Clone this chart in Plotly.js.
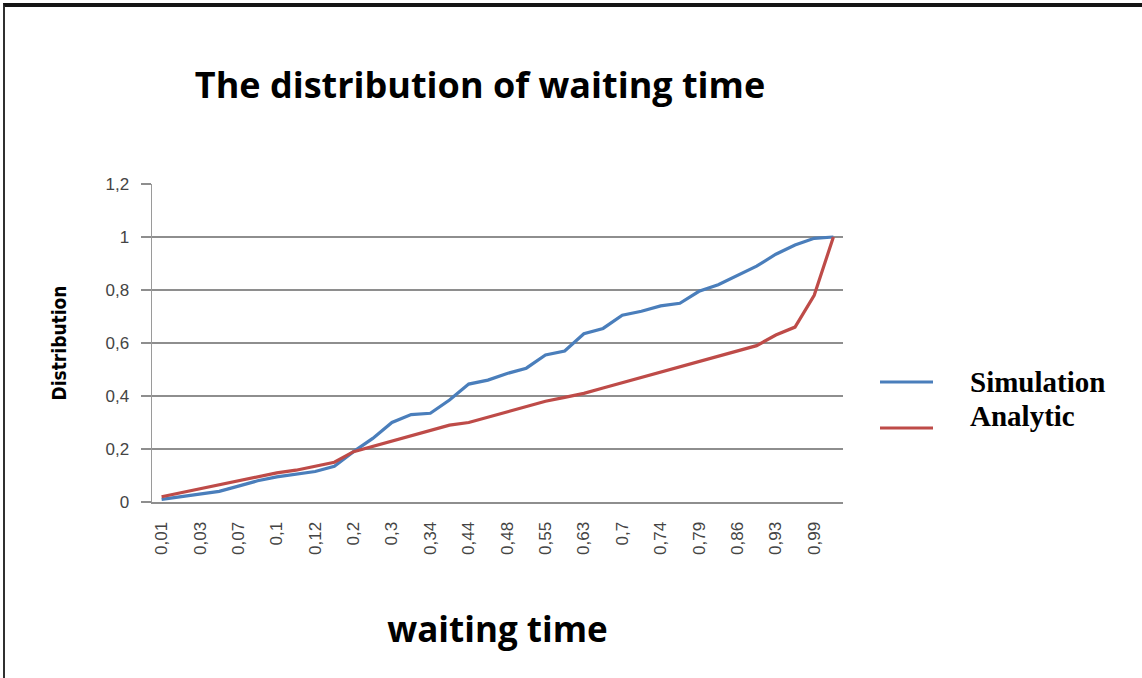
<!DOCTYPE html>
<html>
<head>
<meta charset="utf-8">
<script src="https://cdn.plot.ly/plotly-3.0.1.min.js"></script>
<style>
  html, body { margin: 0; padding: 0; background: #fff; }
  #wrap { position: relative; width: 1142px; height: 678px; overflow: hidden; }
  #chart { width: 1142px; height: 678px; }
  #frame { position: absolute; left: 3px; top: 3px; width: 1160px; height: 700px;
           border-top: 4px solid #151515; border-left: 2px solid #303030; pointer-events: none; }
</style>
</head>
<body>
<div id="wrap">
  <div id="chart"></div>
  <div id="frame"></div>
</div>
<script>
// Category labels (waiting time); only every other one is shown on the axis
const categories = ['0,01','0,02','0,03','0,05','0,07','0,08','0,1','0,11','0,12','0,15',
                    '0,2','0,25','0,3','0,32','0,34','0,4','0,44','0,46','0,48','0,5',
                    '0,55','0,6','0,63','0,66','0,7','0,72','0,74','0,76','0,79','0,83',
                    '0,86','0,9','0,93','0,96','0,99','1'];
const tickLabels = ['0,01','0,03','0,07','0,1','0,12','0,2','0,3','0,34','0,44','0,48',
                    '0,55','0,63','0,7','0,74','0,79','0,86','0,93','0,99'];
const simulation = [0.01,0.02,0.03,0.04,0.06,0.08,0.095,0.105,0.115,0.135,
                    0.19,0.24,0.30,0.33,0.335,0.385,0.445,0.46,0.485,0.505,
                    0.555,0.57,0.635,0.655,0.705,0.72,0.74,0.75,0.795,0.82,
                    0.855,0.89,0.935,0.97,0.995,1.0];
const analytic   = [0.02,0.035,0.05,0.065,0.08,0.095,0.11,0.12,0.135,0.15,
                    0.19,0.21,0.23,0.25,0.27,0.29,0.30,0.32,0.34,0.36,
                    0.38,0.395,0.41,0.43,0.45,0.47,0.49,0.51,0.53,0.55,
                    0.57,0.59,0.63,0.66,0.78,1.0];
const seriesNames = ['Simulation','Analytic'];
const seriesColors = ['#4a7ebb','#be4b48'];

const traces = [
  {x: categories, y: simulation, name: seriesNames[0], type: 'scatter', mode: 'lines',
   line: {color: seriesColors[0], width: 3.2}},
  {x: categories, y: analytic, name: seriesNames[1], type: 'scatter', mode: 'lines',
   line: {color: seriesColors[1], width: 3.2}}
];

// legend drawn by hand (paper coordinates of the plot area)
const L = 152, R = 843, T = 184, B = 502;
const px = v => (v - L) / (R - L);
const py = v => (B - v) / (B - T);

const layout = {
  width: 1142, height: 678,
  margin: {l: L, r: 1142 - R, t: T, b: 678 - B},
  paper_bgcolor: '#ffffff', plot_bgcolor: '#ffffff',
  separators: ', ',
  showlegend: false,
  title: {text: 'The distribution of waiting time', xref: 'container', yref: 'container',
          x: 480/1142, xanchor: 'center', y: 1 - 85/678, yanchor: 'middle',
          font: {family: '"Open Sans", Lato, sans-serif', size: 36, color: '#000', weight: 'bold'}},
  xaxis: {type: 'category', categoryorder: 'array', categoryarray: categories,
          range: [-0.5, categories.length - 0.5],
          tickmode: 'array', tickvals: tickLabels, ticktext: tickLabels,
          tickangle: -90, ticks: '', showgrid: false, zeroline: false,
          showline: true, linecolor: '#8e8e8e', linewidth: 2,
          ticklabelstandoff: 11,
          tickfont: {family: '"Liberation Sans", Arial, sans-serif', size: 17, color: '#444'},
          title: {text: 'waiting time', standoff: 64,
                  font: {family: '"Open Sans", Lato, sans-serif', size: 35, color: '#000', weight: 'bold'}}},
  yaxis: {range: [0, 1.2], dtick: 0.2, tick0: 0,
          showgrid: true, gridcolor: '#8e8e8e', gridwidth: 2,
          ticks: 'outside', ticklen: 10, tickwidth: 2, tickcolor: '#8e8e8e',
          showline: true, linecolor: '#9a9a9a', linewidth: 1.5, zeroline: false,
          ticklabelstandoff: 8,
          tickfont: {family: '"Liberation Sans", Arial, sans-serif', size: 17, color: '#444'},
          title: {text: 'Distribution', standoff: 34,
                  font: {family: '"Liberation Sans Narrow", "DejaVu Sans Condensed", "Liberation Sans", sans-serif', size: 19, color: '#000', weight: 'bold'}}},
  shapes: [
    {type: 'line', xref: 'paper', yref: 'paper', x0: px(880), x1: px(933), y0: py(382), y1: py(382),
     line: {color: seriesColors[0], width: 3}},
    {type: 'line', xref: 'paper', yref: 'paper', x0: px(880), x1: px(933), y0: py(428), y1: py(428),
     line: {color: seriesColors[1], width: 3}}
  ],
  annotations: [
    {text: '<b>' + seriesNames[0] + '</b>', xref: 'paper', yref: 'paper', x: px(968), y: py(382),
     xanchor: 'left', yanchor: 'middle', showarrow: false,
     font: {family: '"Liberation Serif", "Times New Roman", serif', size: 29, color: '#000'}},
    {text: '<b>' + seriesNames[1] + '</b>', xref: 'paper', yref: 'paper', x: px(968), y: py(416),
     xanchor: 'left', yanchor: 'middle', showarrow: false,
     font: {family: '"Liberation Serif", "Times New Roman", serif', size: 29, color: '#000'}}
  ]
};

Plotly.newPlot('chart', traces, layout, {displayModeBar: false, staticPlot: true});
</script>
</body>
</html>
